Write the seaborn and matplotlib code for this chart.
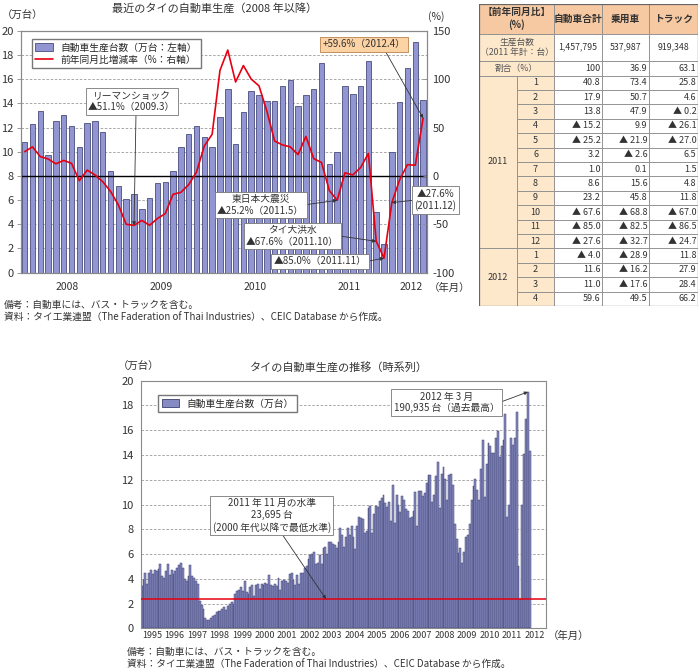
import numpy as np
import pandas as pd
import matplotlib
matplotlib.use("Agg")
import matplotlib.pyplot as plt
import matplotlib.transforms as mtrans
from matplotlib.patches import Patch, Rectangle
from matplotlib.lines import Line2D
import seaborn as sns

sns.set_style("white")
plt.rcParams['font.family'] = ['Noto Sans CJK JP', 'DejaVu Sans']
plt.rcParams['axes.unicode_minus'] = False

# ---- monthly production (10k units) ----
prod_1995 = [3.4, 3.9, 4.5, 3.6, 4.5, 4.7, 4.4, 4.7, 4.6, 4.8, 5.2, 4.2]
prod_1996 = [4.1, 4.6, 5.2, 4.3, 4.7, 4.4, 4.6, 4.9, 5.1, 5.3, 4.9, 4.0]
prod_1997 = [3.8, 4.2, 5.1, 4.2, 4.1, 3.8, 3.6, 2.2, 1.9, 1.6, 0.8, 0.7]
prod_1998 = [0.7, 0.8, 1.0, 1.1, 1.3, 1.4, 1.4, 1.6, 1.7, 1.5, 1.8, 2.0]
prod_1999 = [2.1, 2.0, 2.8, 3.0, 3.1, 3.3, 3.0, 3.8, 2.9, 2.8, 3.3, 3.5]
prod_2000 = [2.6, 3.5, 3.6, 3.2, 3.6, 3.5, 3.7, 3.6, 4.3, 3.5, 3.4, 3.6]
prod_2001 = [3.4, 4.1, 3.1, 3.8, 3.9, 3.8, 3.7, 4.4, 4.5, 3.9, 3.5, 4.3]
prod_2002 = [3.6, 4.5, 4.5, 4.9, 5.0, 5.6, 5.9, 6.0, 6.2, 5.2, 5.3, 5.9]
prod_2003 = [5.2, 6.5, 6.6, 6.0, 7.0, 7.0, 6.8, 6.7, 6.5, 7.0, 8.1, 7.5]
prod_2004 = [6.6, 7.4, 8.1, 7.5, 8.3, 7.4, 6.4, 8.3, 9.0, 8.9, 8.8, 7.7]
prod_2005 = [7.9, 9.7, 9.9, 7.7, 9.2, 9.9, 9.8, 10.3, 10.5, 10.8, 10.1, 9.8]
prod_2006 = [10.2, 8.7, 11.6, 8.5, 10.8, 10.0, 9.4, 10.7, 10.4, 9.6, 9.5, 8.9]
prod_2007 = [9.0, 9.5, 11.0, 8.3, 11.1, 11.1, 10.7, 10.9, 11.7, 12.4, 12.4, 10.2]
prod_2008 = [10.8, 12.3, 13.4, 9.7, 12.5, 13.0, 12.1, 10.4, 12.4, 12.5, 11.6, 8.4]
prod_2009 = [7.2, 6.1, 6.5, 5.3, 6.2, 7.4, 7.5, 8.4, 10.4, 11.5, 12.1, 11.2]
prod_2010 = [10.4, 12.9, 15.2, 10.6, 13.3, 15.0, 14.7, 14.2, 14.2, 15.4, 15.9, 13.8]
prod_2011 = [14.7, 15.2, 17.3, 9.0, 10.0, 15.4, 14.8, 15.4, 17.5, 5.0, 2.3695, 10.0]
prod_2012 = [14.1, 16.9, 19.0935, 14.3]

# ---- year-on-year change (%) ----
yoy_2008 = [25, 30, 20, 17.5, 12.5, 16, 13, -5, 6, 1, -6, -16]
yoy_2009 = [-30, -50, -51.1, -46, -51, -44, -39, -19, -17, -9, 4, 31]
yoy_2010 = [43, 109, 130, 97, 114, 100, 93, 67, 36, 32, 30, 22]

# ---- table ----
table_cols = ["自動車合計", "乗用車", "トラック"]
units_2011 = [1457795, 537987, 919348]
share_pct = [100, 36.9, 63.1]
tbl_total = [40.8, 17.9, 13.8, -15.2, -25.2, 3.2, 1.0, 8.6, 23.2, -67.6, -85.0, -27.6,
             -4.0, 11.6, 11.0, 59.6]
tbl_car = [73.4, 50.7, 47.9, 9.9, -21.9, -2.6, 0.1, 15.6, 45.8, -68.8, -82.5, -32.7,
           -28.9, -16.2, -17.6, 49.5]
tbl_truck = [25.8, 4.6, -0.2, -26.1, -27.0, 6.5, 1.5, 4.8, 11.8, -67.0, -86.5, -24.7,
             11.8, 27.9, 28.4, 66.2]
tbl_years = [("2011", 12), ("2012", 4)]

hist_years = list(range(1995, 2013))
recent_years = ["2008", "2009", "2010", "2011", "2012"]
low_level = 2.3695

BAR_FILL = "#9195d1"
BAR_EDGE = "#4a4d7c"
HIST_FILL = "#878bc3"
HIST_EDGE = "#3c3f6c"
RED = "#e60012"
GRID = "#9a9a9a"
SPINE = "#8a8a8a"
TXT = "#333333"

fig = plt.figure(figsize=(7, 6.72), dpi=100)

# =============== top chart ===============
recent_prod = prod_2008 + prod_2009 + prod_2010 + prod_2011 + prod_2012
recent_yoy = yoy_2008 + yoy_2009 + yoy_2010 + tbl_total
recent = pd.DataFrame({"pos": np.arange(len(recent_prod)),
                       "prod": recent_prod, "yoy": recent_yoy})
n_top = len(recent)

ax = fig.add_axes([0.0296, 0.5942, 0.5804, 0.3601])
sns.barplot(data=recent, x="pos", y="prod", native_scale=True, width=0.7,
            color=BAR_FILL, edgecolor=BAR_EDGE, linewidth=0.6, saturation=1,
            errorbar=None, ax=ax, zorder=2)
ax.set_ylim(0, 20)
ax.set_yticks(np.arange(0, 21, 2))
ax.yaxis.grid(True, linestyle=(0, (3, 2)), color=GRID, lw=0.6)
ax.set_axisbelow(True)
ax.axhline(8, color="black", lw=1.0, zorder=3)
ax.set_xlabel("")
ax.set_ylabel("")

ax2 = ax.twinx()
sns.lineplot(data=recent, x="pos", y="yoy", color=RED, lw=1.2, ax=ax2,
             errorbar=None, legend=False)
ax2.set_ylim(-100, 150)
ax2.set_yticks(np.arange(-100, 151, 50))
ax2.set_ylabel("")
ax2.set_xlabel("")
ax.set_xlim(-0.5, n_top - 0.5)

year_edges = [-0.5] + [12 * k - 0.5 for k in range(1, 5)] + [n_top - 0.5]
ax.set_xticks(year_edges)
ax.set_xticks(np.arange(0.5, n_top - 1, 1), minor=True)
ax.tick_params(axis="x", which="major", length=14, width=0.7, color=SPINE, labelbottom=False)
ax.tick_params(axis="x", which="minor", length=6, width=0.6, color=SPINE)
ax.tick_params(axis="y", length=3, width=0.6, color=SPINE, labelsize=8, labelcolor=TXT, pad=2)
ax2.tick_params(axis="y", direction="in", length=3, width=0.6, color=SPINE,
                labelsize=8, labelcolor=TXT, pad=4)
for a in (ax, ax2):
    for s in a.spines.values():
        s.set_color(SPINE)
        s.set_linewidth(0.8)

trans = mtrans.blended_transform_factory(ax.transData, ax.transAxes)
for i, yr in enumerate(recent_years):
    lo = year_edges[i]
    hi = year_edges[i + 1]
    ax.text((lo + hi) / 2, -0.058, yr, transform=trans, ha="center", va="center",
            fontsize=7.5, color=TXT)

ax2.legend(handles=[Patch(fc=BAR_FILL, ec=BAR_EDGE, lw=0.6),
                    Line2D([], [], color=RED, lw=1.2)],
           labels=["自動車生産台数（万台：左軸）", "前年同月比増減率（%：右軸）"],
           loc="upper left", bbox_to_anchor=(0.028, 0.966), borderaxespad=0,
           fontsize=7, frameon=True, fancybox=False, edgecolor="#777777",
           framealpha=1, handlelength=1.8, handleheight=0.8, borderpad=0.35,
           labelspacing=0.25)

box = dict(boxstyle="square,pad=0.25", fc="white", ec="#777777", lw=0.6)
arrow = dict(arrowstyle="-|>", color="#333333", lw=0.6, mutation_scale=5,
             shrinkA=0, shrinkB=0)
note_fs = 7
ax2.annotate("リーマンショック\n▲51.1%（2009.3）", xy=(14, -51.1), xytext=(13.7, 77),
             ha="center", va="center", fontsize=note_fs, color=TXT, bbox=box,
             arrowprops=dict(arrow, relpos=(0.55, 0)), zorder=6)
ax2.annotate("東日本大震災\n▲25.2%（2011.5）", xy=(40, -25.2), xytext=(30.2, -30),
             ha="center", va="center", fontsize=note_fs, color=TXT, bbox=box,
             arrowprops=dict(arrow, relpos=(1, 0.5)), zorder=6)
ax2.annotate("タイ大洪水\n▲67.6%（2011.10）", xy=(45, -67.6), xytext=(34.3, -62),
             ha="center", va="center", fontsize=note_fs, color=TXT, bbox=box,
             arrowprops=dict(arrow, relpos=(1, 0.5)), zorder=6)
ax2.annotate("▲85.0%（2011.11）", xy=(46, -85), xytext=(37.8, -88.4),
             ha="center", va="center", fontsize=note_fs, color=TXT, bbox=box,
             arrowprops=dict(arrow, relpos=(1, 0.5)), zorder=6)
ax2.annotate("▲27.6%\n(2011.12)", xy=(47, -27.6), xytext=(52.6, -25),
             ha="center", va="center", fontsize=note_fs, color=TXT, bbox=box,
             arrowprops=dict(arrow, relpos=(0, 0.5)), annotation_clip=False, zorder=6)
ax2.annotate("+59.6%（2012.4）", xy=(51, 59.6), xytext=(43.4, 135.7),
             ha="center", va="center", fontsize=note_fs, color=TXT,
             bbox=dict(boxstyle="square,pad=0.25", fc="#fbd3a4", ec="#b8834c", lw=0.6),
             arrowprops=dict(arrow, relpos=(0.75, 0)), zorder=6)

fig.text(0.307, 0.988, "最近のタイの自動車生産（2008 年以降）", ha="center", va="center",
         fontsize=8, color=TXT)
fig.text(0.002, 0.976, "（万台）", ha="left", va="center", fontsize=7.5, color=TXT)
fig.text(0.612, 0.976, "(%)", ha="left", va="center", fontsize=7.5, color=TXT)
fig.text(0.612, 0.572, "（年月）", ha="left", va="center", fontsize=7.5, color=TXT)
fig.text(0.006, 0.546, "備考：自動車には、バス・トラックを含む。", ha="left", va="center",
         fontsize=7, color=TXT)
fig.text(0.006, 0.527, "資料：タイ工業連盟（The Faderation of Thai Industries）、CEIC Database から作成。",
         ha="left", va="center", fontsize=7, color=TXT)

# =============== table ===============
col_w = [38, 37, 48, 47, 49]
head_h, units_h, share_h, row_h = 30, 27, 15, 14.4
n_rows = len(tbl_total)
total_h = head_h + units_h + share_h + row_h * n_rows
xs = np.cumsum([0] + col_w)
HEAD_FC = "#f7c9a3"
LIGHT_FC = "#fde8cc"
CELL_EC = "#8c8c8c"

tab = fig.add_axes([479 / 700, 1 - 306 / 672, sum(col_w) / 700, total_h / 672])
tab.set_xlim(0, xs[-1])
tab.set_ylim(total_h, 0)
tab.axis("off")


def cell(x0, x1, y0, y1, text, fc="white", ha="center", **kw):
    tab.add_patch(Rectangle((x0, y0), x1 - x0, y1 - y0, fc=fc, ec=CELL_EC, lw=0.6))
    tx = {"center": (x0 + x1) / 2, "right": x1 - 1.5, "left": x0 + 1.5}[ha]
    kw.setdefault("fontsize", 6.5)
    kw.setdefault("color", TXT)
    tab.text(tx, (y0 + y1) / 2, text, ha=ha, va="center", **kw)


def fmt(v):
    return f"▲ {abs(v):.1f}" if v < 0 else f"{v:.1f}"


y = 0
cell(xs[0], xs[2], y, y + head_h, "【前年同月比】\n(%)", fc=HEAD_FC, fontweight="bold",
     fontsize=7, linespacing=1.2)
for j, name in enumerate(table_cols):
    cell(xs[2 + j], xs[3 + j], y, y + head_h, name, fc=HEAD_FC, fontweight="bold", fontsize=7)
y += head_h
cell(xs[0], xs[2], y, y + units_h, "生産台数\n（2011 年計：台）", fc=LIGHT_FC, color="#555555",
     fontsize=6.3, linespacing=1.2)
for j, v in enumerate(units_2011):
    cell(xs[2 + j], xs[3 + j], y, y + units_h, f"{v:,}", fontsize=6.3)
y += units_h
cell(xs[0], xs[2], y, y + share_h, "割合（%）", fc=LIGHT_FC, color="#555555", fontsize=6.3)
for j, v in enumerate(share_pct):
    cell(xs[2 + j], xs[3 + j], y, y + share_h, f"{v:g}", ha="right")
y += share_h
r = 0
for yr, n in tbl_years:
    cell(xs[0], xs[1], y + r * row_h, y + (r + n) * row_h, yr, fc=LIGHT_FC)
    for m in range(n):
        y0 = y + (r + m) * row_h
        y1 = y0 + row_h
        cell(xs[1], xs[2], y0, y1, str(m + 1), fc=LIGHT_FC)
        for j, series in enumerate((tbl_total, tbl_car, tbl_truck)):
            cell(xs[2 + j], xs[3 + j], y0, y1, fmt(series[r + m]), ha="right")
    r += n
tab.add_patch(Rectangle((0, 0), xs[-1], total_h, fc="none", ec="#666666", lw=0.9))

# =============== bottom chart ===============
hist_prod = (prod_1995 + prod_1996 + prod_1997 + prod_1998 + prod_1999 + prod_2000
             + prod_2001 + prod_2002 + prod_2003 + prod_2004 + prod_2005 + prod_2006
             + prod_2007 + prod_2008 + prod_2009 + prod_2010 + prod_2011 + prod_2012)
hist = pd.DataFrame({"pos": np.arange(len(hist_prod)), "prod": hist_prod})
n_slots = 12 * len(hist_years)

axb = fig.add_axes([0.201, 0.065, 0.5786, 0.3685])
sns.barplot(data=hist, x="pos", y="prod", native_scale=True, width=1.0,
            color=HIST_FILL, edgecolor=HIST_EDGE, linewidth=0.35, saturation=1,
            errorbar=None, ax=axb, zorder=2)
axb.set_xlim(-0.5, n_slots - 0.5)
axb.set_ylim(0, 20)
axb.set_yticks(np.arange(0, 21, 2))
axb.yaxis.grid(True, linestyle=(0, (3, 2)), color=GRID, lw=0.6)
axb.set_axisbelow(True)
axb.axhline(low_level, color=RED, lw=1.1, zorder=3)
axb.set_xlabel("")
axb.set_ylabel("")
axb.set_xticks([12 * k - 0.5 for k in range(len(hist_years) + 1)])
axb.tick_params(axis="x", length=10, width=0.6, color=SPINE, labelbottom=False)
axb.tick_params(axis="y", length=3, width=0.6, color=SPINE, labelsize=8, labelcolor=TXT, pad=2)
for s in axb.spines.values():
    s.set_color(SPINE)
    s.set_linewidth(0.8)

transb = mtrans.blended_transform_factory(axb.transData, axb.transAxes)
for k, yr in enumerate(hist_years):
    axb.text(12 * k + 5.5, -0.031, str(yr), transform=transb, ha="center", va="center",
             fontsize=6.5, color=TXT)

axb.legend(handles=[Patch(fc=HIST_FILL, ec=HIST_EDGE, lw=0.6)], labels=["自動車生産台数（万台）"],
           loc="upper left", bbox_to_anchor=(0.043, 0.942), borderaxespad=0, fontsize=7,
           frameon=True, fancybox=False, edgecolor="#777777", framealpha=1,
           handlelength=1.8, handleheight=0.8, borderpad=0.35)

axb.annotate("2011 年 11 月の水準\n23,695 台\n(2000 年代以降で最低水準)", xy=(98.3, low_level),
             xytext=(69.4, 9.1), ha="center", va="center", fontsize=7, color=TXT,
             bbox=box, arrowprops=dict(arrow, relpos=(0.58, 0)), zorder=6)
axb.annotate("2012 年 3 月\n190,935 台（過去最高）", xy=(206, prod_2012[2]),
             xytext=(162.7, 18.24), ha="center", va="center", fontsize=7, color=TXT,
             bbox=box, arrowprops=dict(arrow, relpos=(1, 0.5)), zorder=6)

fig.text(339 / 700, 1 - 367 / 672, "タイの自動車生産の推移（時系列）", ha="center", va="center",
         fontsize=8, color=TXT)
fig.text(118 / 700, 1 - 367 / 672, "（万台）", ha="left", va="center", fontsize=7.5, color=TXT)
fig.text(548 / 700, 1 - 636 / 672, "（年月）", ha="left", va="center", fontsize=7.5, color=TXT)
fig.text(127 / 700, 1 - 652 / 672, "備考：自動車には、バス・トラックを含む。", ha="left",
         va="center", fontsize=7, color=TXT)
fig.text(127 / 700, 1 - 665 / 672,
         "資料：タイ工業連盟（The Faderation of Thai Industries）、CEIC Database から作成。",
         ha="left", va="center", fontsize=7, color=TXT)

fig.savefig("out.png", dpi=100)
